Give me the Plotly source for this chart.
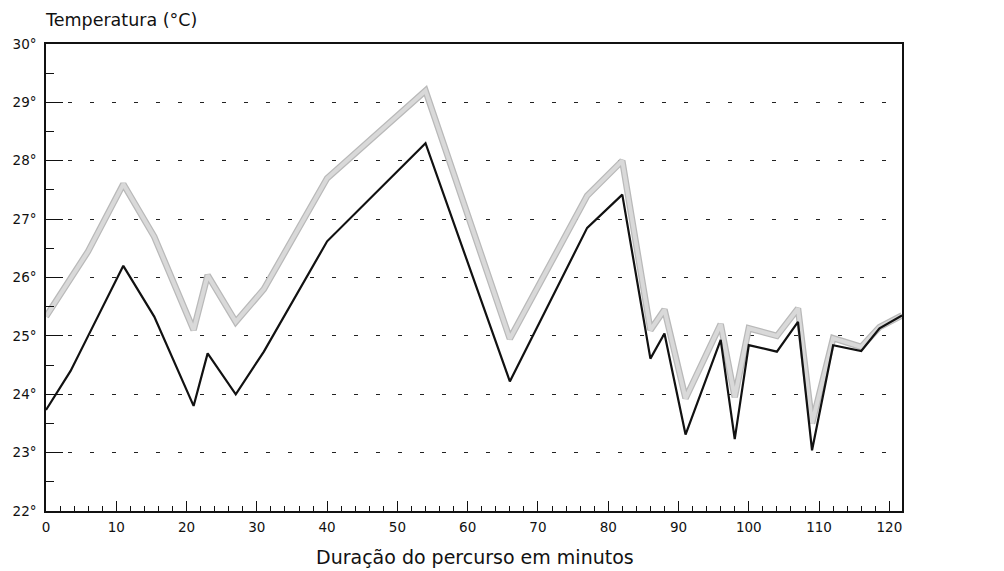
import plotly.graph_objects as go

# Elapsed time along the route (minutes)
minutes = [0, 3.5, 6, 11, 15.4, 21, 23, 27, 31, 40, 54, 66, 77, 82, 86, 88,
           91, 96, 98, 100, 104, 107, 109, 112, 116, 118.6, 121.8]

# Temperature readings (°C) – upper (grey) and lower (black) curves
temp_grey = [25.33, 25.98, 26.45, 27.6, 26.7, 25.1, 26.04, 25.24, 25.8, 27.7,
             29.2, 24.95, 27.4, 28.0, 25.1, 25.45, 23.93, 25.2, 23.95, 25.13,
             25.0, 25.47, 23.5, 24.96, 24.81, 25.15, 25.35]
temp_black = [23.73, 24.4, 25.0, 26.2, 25.33, 23.8, 24.7, 24.0, 24.73, 26.62,
              28.3, 24.22, 26.85, 27.42, 24.61, 25.04, 23.31, 24.93, 23.23, 24.84,
              24.73, 25.24, 23.04, 24.84, 24.74, 25.13, 25.35]

y_ticks = [22, 23, 24, 25, 26, 27, 28, 29, 30]
y_labels = [f"{v}°" for v in y_ticks]
x_ticks = list(range(0, 121, 10))

FONT = "DejaVu Sans"

fig = go.Figure()
# Grey curve: soft rim with a lighter core
fig.add_trace(go.Scatter(x=minutes, y=temp_grey, mode="lines",
                         line=dict(color="#b9b9b9", width=6.5), hoverinfo="skip"))
fig.add_trace(go.Scatter(x=minutes, y=temp_grey, mode="lines",
                         line=dict(color="#d9d9d9", width=4)))
fig.add_trace(go.Scatter(x=minutes, y=temp_black, mode="lines",
                         line=dict(color="#111111", width=2.2)))

fig.update_layout(
    width=1004, height=571,
    margin=dict(l=46, r=102, t=44, b=60),
    paper_bgcolor="white", plot_bgcolor="white",
    showlegend=False,
    font=dict(family=FONT, color="#111111"),
    xaxis=dict(
        range=[0, 121.8], tickvals=x_ticks, ticktext=[str(v) for v in x_ticks],
        ticks="inside", ticklen=10, tickwidth=1, tickcolor="#111111",
        minor=dict(dtick=2, tick0=0, ticks="inside", ticklen=5, tickcolor="#111111", showgrid=False),
        showline=True, linecolor="#111111", linewidth=1.6, mirror=True,
        showgrid=False, zeroline=False,
        tickfont=dict(family=FONT, size=13.5, color="#111111"),
        ticklabelstandoff=3,
    ),
    yaxis=dict(
        range=[22, 30], tickvals=y_ticks, ticktext=y_labels,
        ticks="inside", ticklen=17, tickwidth=1, tickcolor="#111111",
        minor=dict(dtick=0.5, tick0=22, ticks="inside", ticklen=8, tickcolor="#111111", showgrid=False),
        showline=True, linecolor="#111111", linewidth=1.6, mirror=True,
        showgrid=True, gridcolor="#222222", gridwidth=1, griddash="4px,18px",
        zeroline=False,
        tickfont=dict(family=FONT, size=13.5, color="#111111"),
        ticklabelstandoff=5,
    ),
    annotations=[
        dict(text="Temperatura (°C)", xref="paper", yref="paper",
             x=-0.003, y=1.052, xanchor="left", yanchor="middle", showarrow=False,
             font=dict(family=FONT, size=17.5, color="#111111")),
        dict(text="Duração do percurso em minutos", xref="paper", yref="paper",
             x=0.501, y=-0.098, xanchor="center", yanchor="middle", showarrow=False,
             font=dict(family=FONT, size=19, color="#111111")),
    ],
)

fig.write_html("out.html")
